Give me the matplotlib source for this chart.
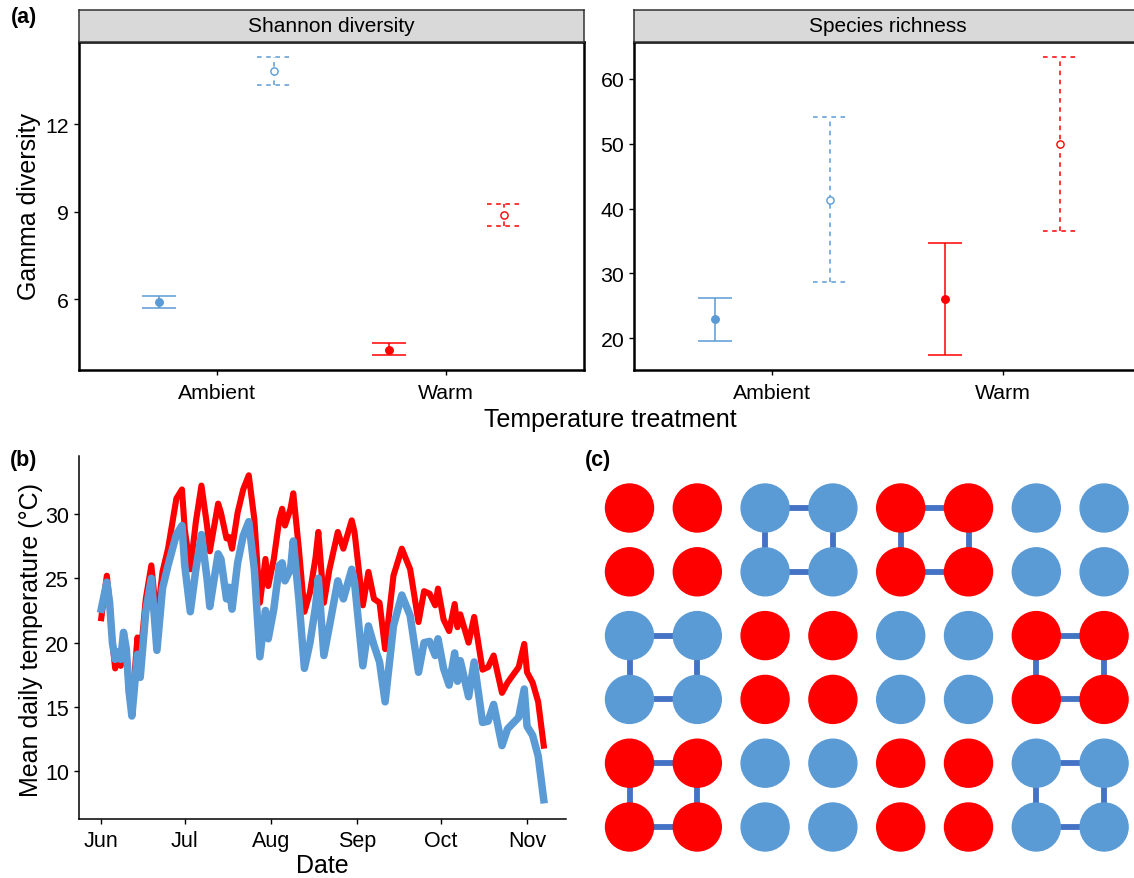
import matplotlib
matplotlib.use("Agg")
import matplotlib.pyplot as plt
import matplotlib.dates as mdates
from matplotlib.patches import Circle
import numpy as np
import pandas as pd

plt.rcParams.update({
    "font.family": ["Liberation Sans", "DejaVu Sans"],
    "axes.linewidth": 1.1,
    "xtick.direction": "out",
    "ytick.direction": "out",
    "xtick.major.size": 3.6,
    "ytick.major.size": 3.6,
    "xtick.major.width": 1.0,
    "ytick.major.width": 1.0,
})

BLUE = "#5B9BD5"
RED = "#FF0000"
LINK = "#4472C4"

# ---- panel (a): gamma diversity ----
treatments = ["Ambient", "Warm"]
# solid line / filled point series
shannon_solid = [5.89, 4.27]
shannon_solid_lo = [5.69, 4.08]
shannon_solid_hi = [6.12, 4.48]
# dashed line / open point series
shannon_dash = [13.84, 8.88]
shannon_dash_lo = [13.35, 8.50]
shannon_dash_hi = [14.32, 9.26]

rich_solid = [22.9, 26.0]
rich_solid_lo = [19.6, 17.4]
rich_solid_hi = [26.2, 34.7]
rich_dash = [41.3, 50.0]
rich_dash_lo = [28.6, 36.6]
rich_dash_hi = [54.1, 63.4]

# ---- panel (b): mean daily temperature (days after 1 June) ----
day = [0, 2, 3, 4, 5, 6, 7, 8, 9, 10, 11, 13, 14, 16, 18, 20, 22, 24, 27, 29,
       30, 32, 34, 36, 38, 39, 42, 43, 45, 46, 47, 49, 51, 53, 55, 57, 59, 60,
       62, 64, 65, 66, 68, 69, 71, 73, 75, 77, 78, 80, 82, 85, 87, 90, 91, 94,
       96, 98, 100, 102, 105, 108, 111, 114, 116, 118, 120, 121, 123, 125, 127,
       128, 129, 132, 134, 137, 139, 141, 144, 146, 150, 152, 153, 155, 157, 159]
temp_warm = [21.9, 25.2, 23.1, 20.0, 18.0, 19.3, 18.2, 20.8, 19.5, 15.9, 14.9,
             20.4, 18.7, 23.4, 26.0, 21.6, 25.5, 27.3, 31.2, 31.9, 28.8, 25.7,
             29.4, 32.2, 29.1, 27.1, 30.8, 30.1, 28.1, 28.2, 27.3, 30.1, 31.9,
             33.0, 29.6, 23.1, 26.5, 24.4, 26.5, 29.6, 30.4, 29.1, 30.4, 31.6,
             27.3, 22.4, 23.9, 26.6, 28.6, 23.1, 25.7, 28.6, 27.3, 29.5, 28.6,
             22.9, 25.5, 23.4, 23.1, 19.5, 25.2, 27.3, 25.7, 21.6, 24.0, 23.8,
             22.9, 24.2, 21.8, 20.9, 23.0, 21.2, 22.2, 20.0, 22.0, 17.9, 18.1,
             19.0, 16.1, 16.9, 18.1, 19.9, 17.7, 16.9, 15.4, 12.0]
temp_ambient = [22.6, 24.7, 23.1, 20.0, 18.7, 19.3, 18.7, 20.8, 19.5, 16.2, 14.3,
                19.1, 17.3, 22.4, 25.0, 19.4, 24.2, 26.0, 28.4, 29.1, 26.0, 22.4,
                25.7, 28.4, 25.0, 22.8, 26.9, 26.5, 23.4, 24.3, 22.6, 26.2, 28.3,
                29.4, 25.7, 18.9, 22.5, 20.3, 22.6, 26.0, 26.2, 24.8, 25.7, 27.9,
                23.4, 18.0, 20.0, 22.8, 25.0, 19.0, 21.3, 24.8, 23.4, 25.7, 24.7,
                18.2, 21.3, 19.8, 18.5, 15.4, 21.3, 23.7, 22.1, 17.7, 20.0, 20.1,
                19.0, 20.3, 18.0, 16.7, 19.2, 17.0, 18.6, 15.8, 18.5, 13.8, 13.9,
                15.2, 12.0, 13.3, 14.2, 16.4, 13.5, 12.8, 11.2, 7.8]

# ---- panel (c): plot layout, 3 rows x 4 blocks of 2x2 ----
block_colors = [["red", "blue", "red", "blue"],
                ["blue", "red", "blue", "red"],
                ["red", "blue", "red", "blue"]]
block_linked = [[False, True, True, False],
                [True, False, False, True],
                [True, False, False, True]]

W, H = 1134, 879
fig = plt.figure(figsize=(W / 100, H / 100), dpi=100)


def fx(px):
    return px / W


def fy(py):
    return 1 - py / H


def errbar(ax, x, m, lo, hi, color, ls, filled):
    cw = 0.074
    ax.vlines(x, lo, hi, color=color, lw=1.1, linestyles=ls)
    ax.hlines([lo, hi], x - cw, x + cw, color=color, lw=1.1, linestyles=ls)
    if filled:
        ax.plot(x, m, "o", ms=5.4, color=color, zorder=3)
    else:
        ax.plot(x, m, "o", ms=5.2, mfc="white", mec=color, mew=1.0, zorder=3)


def panel_a(left, right, title, solid, slo, shi, dash, dlo, dhi, ylim, yticks):
    ax = fig.add_axes([fx(left), fy(371), fx(right - left), (371 - 43) / H])
    xs = np.arange(1, len(treatments) + 1)
    for i, c in enumerate([BLUE, RED]):
        errbar(ax, xs[i] - 0.25, solid[i], slo[i], shi[i], c, "solid", True)
        errbar(ax, xs[i] + 0.25, dash[i], dlo[i], dhi[i], c, (0, (3, 3)), False)
    ax.set_xlim(0.4, 2.6)
    ax.set_ylim(*ylim)
    ax.set_xticks(xs)
    ax.set_xticklabels(treatments)
    ax.set_yticks(yticks)
    for s in ax.spines.values():
        s.set_linewidth(1.8)
    ax.tick_params(axis="both", labelsize=15.3)
    ax.tick_params(axis="x", pad=6)
    sax = fig.add_axes([fx(left), fy(43), fx(right - left), (43 - 10.5) / H])
    sax.set_facecolor("#D9D9D9")
    sax.set_xticks([])
    sax.set_yticks([])
    for s in sax.spines.values():
        s.set_linewidth(1.1)
        s.set_color("#333333")
    sax.text(0.5, 0.5, title, ha="center", va="center", fontsize=15,
             transform=sax.transAxes)
    return ax


axl = panel_a(79, 584, "Shannon diversity", shannon_solid, shannon_solid_lo,
              shannon_solid_hi, shannon_dash, shannon_dash_lo, shannon_dash_hi,
              (3.57, 14.83), [6, 9, 12])
axr = panel_a(634, 1141, "Species richness", rich_solid, rich_solid_lo,
              rich_solid_hi, rich_dash, rich_dash_lo, rich_dash_hi,
              (15.1, 65.7), [20, 30, 40, 50, 60])

fig.text(fx(29), fy(207), "Gamma diversity", rotation=90, ha="center",
         va="center", fontsize=18)
fig.text(fx(610), fy(420), "Temperature treatment", ha="center", va="center",
         fontsize=18)

# ---- panel (b) ----
axb = fig.add_axes([fx(79), fy(820), fx(566 - 79), (820 - 457) / H])
dates = pd.Timestamp("2018-06-01") + pd.to_timedelta(day, unit="D")
axb.plot(dates, temp_warm, color=RED, lw=4.4, solid_joinstyle="round")
axb.plot(dates, temp_ambient, color=BLUE, lw=5.4, solid_joinstyle="round")
axb.set_xlim(pd.Timestamp("2018-05-24"), pd.Timestamp("2018-11-15"))
axb.set_ylim(6.3, 34.5)
axb.set_yticks([10, 15, 20, 25, 30])
axb.xaxis.set_major_locator(mdates.MonthLocator())
axb.xaxis.set_major_formatter(mdates.DateFormatter("%b"))
axb.spines["top"].set_visible(False)
axb.spines["right"].set_visible(False)
for s in ("left", "bottom"):
    axb.spines[s].set_linewidth(1.1)
axb.tick_params(axis="both", labelsize=15.5)
axb.tick_params(axis="x", pad=4)
fig.text(fx(322), fy(866), "Date", ha="center", va="center", fontsize=18)
fig.text(fx(31), fy(640), "Mean daily temperature (\u00b0C)", rotation=90,
         ha="center", va="center", fontsize=18)

# ---- panel (c) ----
axc = fig.add_axes([fx(580), 0, fx(W - 580), (H - 460) / H])
axc.set_xlim(580, W)
axc.set_ylim(H, 460)
axc.axis("off")
x0, y0, px, py, r = 629.5, 509, 67.8, 63.8, 24
cmap = {"red": RED, "blue": BLUE}
for br, (crow, lrow) in enumerate(zip(block_colors, block_linked)):
    for bc, (col, linked) in enumerate(zip(crow, lrow)):
        cx = [x0 + (2 * bc) * px, x0 + (2 * bc + 1) * px]
        cy = [y0 + (2 * br) * py, y0 + (2 * br + 1) * py]
        if linked:
            axc.plot([cx[0], cx[1], cx[1], cx[0], cx[0]],
                     [cy[0], cy[0], cy[1], cy[1], cy[0]],
                     color=LINK, lw=4.2, zorder=1, solid_capstyle="butt")
        for yy in cy:
            for xx in cx:
                axc.add_patch(Circle((xx, yy), r, color=cmap[col], zorder=2))

for lab, x, y in [("(a)", 24, 18), ("(b)", 24, 461), ("(c)", 598, 461)]:
    fig.text(fx(x), fy(y), lab, ha="center", va="center", fontsize=15.5,
             fontweight="bold")

fig.savefig("out.png", dpi=100)
